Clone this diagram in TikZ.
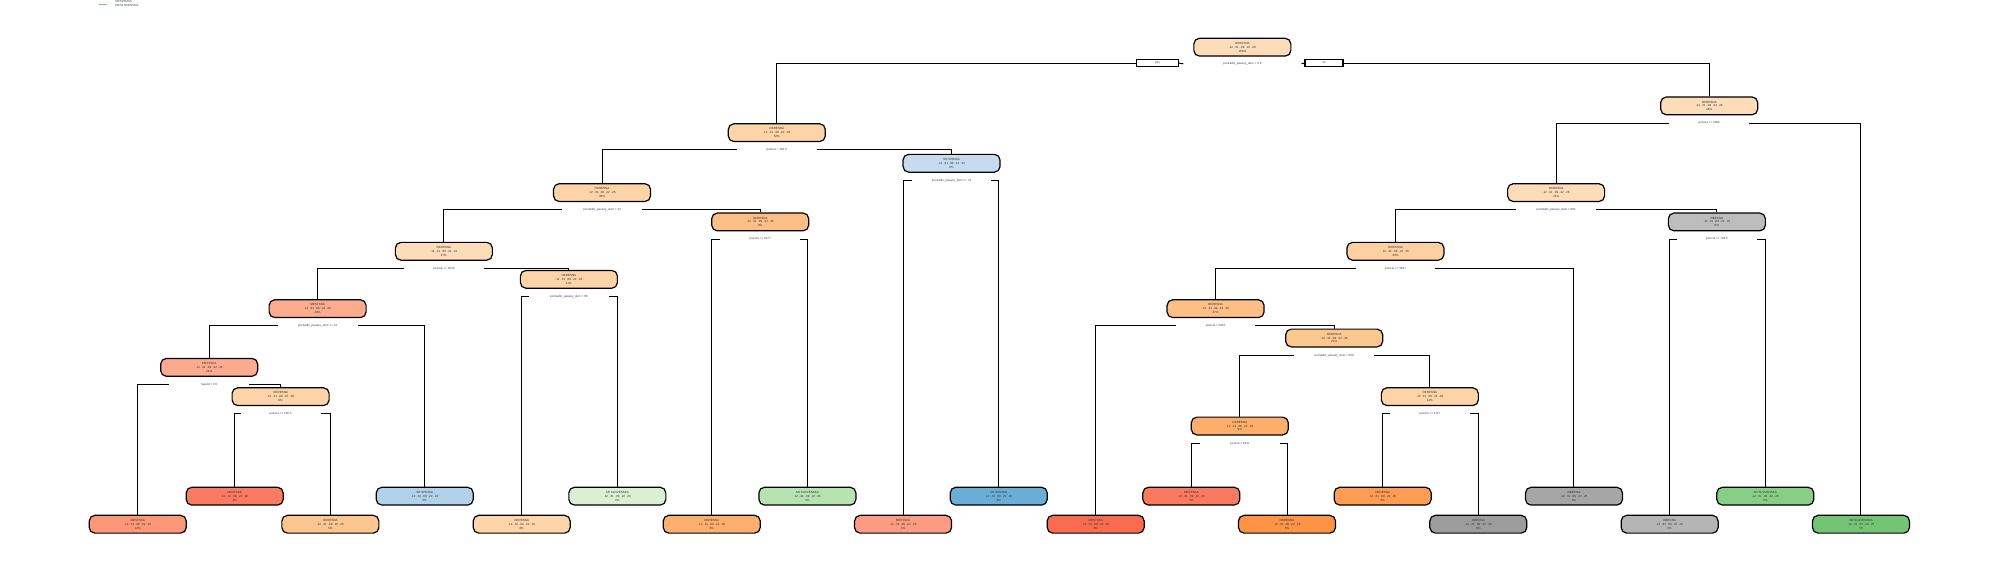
\documentclass[tikz,border=0pt]{standalone}
\usepackage{fontspec}
\setmainfont{Liberation Sans}
\usetikzlibrary{calc}
\definecolor{txt}{HTML}{303030}
\definecolor{lab}{HTML}{35405E}
\definecolor{cA}{HTML}{FDDCBA}
\definecolor{cB}{HTML}{FDD3A8}
\definecolor{cBlue}{HTML}{C6DBEF}
\definecolor{cC}{HTML}{FDBF86}
\definecolor{cD}{HTML}{FCAB8E}
\definecolor{cE}{HTML}{FDD0A2}
\definecolor{cF}{HTML}{FDC790}
\definecolor{cG}{HTML}{FDAE6B}
\definecolor{cGray}{HTML}{BDBDBD}
\definecolor{k1}{HTML}{FC9878}
\definecolor{k2}{HTML}{FB7B62}
\definecolor{k3}{HTML}{FDC590}
\definecolor{k4}{HTML}{B1D2E8}
\definecolor{k5}{HTML}{FDD5A8}
\definecolor{k6}{HTML}{D9F0D3}
\definecolor{k7}{HTML}{FDAF6F}
\definecolor{k8}{HTML}{B7E2B1}
\definecolor{k9}{HTML}{FC9B83}
\definecolor{k10}{HTML}{6AAED6}
\definecolor{k11}{HTML}{F96C50}
\definecolor{k12}{HTML}{FA7A60}
\definecolor{k13}{HTML}{FD9445}
\definecolor{k14}{HTML}{FD9C52}
\definecolor{k15}{HTML}{9C9C9C}
\definecolor{k16}{HTML}{A6A6A6}
\definecolor{k17}{HTML}{B5B5B5}
\definecolor{k18}{HTML}{88CE87}
\definecolor{k19}{HTML}{74C476}
\tikzset{
  tn/.style={draw=black, line width=0.6pt, rounded corners=2.8pt, minimum width=48.5pt, minimum height=8.9pt, inner sep=0pt, align=center, font=\fontsize{1.5pt}{1.9pt}\selectfont, text=txt},
  splitlab/.style={inner sep=0pt, minimum width=39.5pt, minimum height=2pt, font=\fontsize{1.5pt}{1.8pt}\selectfont, text=lab},
  yn/.style={draw=black, line width=0.55pt, inner sep=0pt, minimum height=3.2pt, font=\fontsize{1.5pt}{1.8pt}\selectfont, text=txt},
  edge/.style={draw=black, line width=0.5pt},
}
\newcommand\tnode[6]{\node[tn, fill=#4] (#1) at (#2,#3) {#5\\.12\enspace .31\enspace .09\enspace .22\enspace .26\\#6};}
\newcommand\tsplit[4]{%
  \node[splitlab] (#1s) at ($(#1)+(0,13.5)$) {#4};
  \draw[edge] (#2.north) |- (#1s.west);
  \draw[edge] (#3.north) |- (#1s.east);}
\begin{document}
\begin{tikzpicture}[x=0.6378pt, y=-0.6378pt]
\useasboundingbox (0,0) rectangle (1568,448);
% legend
\node[anchor=west, inner sep=0pt, font=\fontsize{1.5pt}{1.8pt}\selectfont, text=lab] (lg1) at (90,0.9) {SR/SPRAVA};
\node[anchor=west, inner sep=0pt, font=\fontsize{1.5pt}{1.8pt}\selectfont, text=lab] (lg2) at (90,4.2) {SR/SLOVENSKA};
\coordinate (lga) at (78,3.4);
\coordinate (lgb) at (84,3.4);
\draw[line width=0.6pt, draw=k19] (lga) -- (lgb);
% internal nodes
\tnode{n1}{974}{37}{cA}{OKRESNA}{100\%}
\tnode{n2}{609}{104}{cB}{OKRESNA}{52\%}
\tnode{n3}{746}{128}{cBlue}{SR SPRAVA}{6\%}
\tnode{n4}{472}{151}{cB}{OKRESNA}{46\%}
\tnode{n5}{596}{174}{cC}{OKRESNA}{9\%}
\tnode{n6}{348}{197}{cA}{OKRESNA}{37\%}
\tnode{n7}{446}{219}{cB}{OKRESNA}{11\%}
\tnode{n8}{249}{242}{cD}{MESTSKA}{26\%}
\tnode{n9}{164}{288}{cD}{MESTSKA}{21\%}
\tnode{n10}{220}{311}{cB}{OKRESNA}{9\%}
\tnode{r1}{1340}{83}{cA}{OKRESNA}{48\%}
\tnode{r2}{1220}{151}{cA}{OKRESNA}{41\%}
\tnode{r3}{1346}{174}{cGray}{OBECNA}{8\%}
\tnode{r4}{1094}{197}{cE}{OKRESNA}{33\%}
\tnode{r5}{953}{242}{cC}{OKRESNA}{27\%}
\tnode{r6}{1046}{265}{cF}{OKRESNA}{21\%}
\tnode{r7}{1121}{311}{cB}{OKRESNA}{12\%}
\tnode{r8}{972}{334}{cG}{OKRESNA}{9\%}
% leaves
\tnode{l1}{108}{411}{k1}{MESTSKA}{12\%}
\tnode{l2}{184}{389}{k2}{MESTSKA}{4\%}
\tnode{l3}{259}{411}{k3}{OKRESNA}{5\%}
\tnode{l4}{333}{389}{k4}{SR SPRAVA}{5\%}
\tnode{l5}{409}{411}{k5}{OKRESNA}{8\%}
\tnode{l6}{484}{389}{k6}{SR SLOVENSKA}{3\%}
\tnode{l7}{558}{411}{k7}{OKRESNA}{6\%}
\tnode{l8}{633}{389}{k8}{SR SLOVENSKA}{3\%}
\tnode{l9}{708}{411}{k9}{MESTSKA}{3\%}
\tnode{l10}{783}{389}{k10}{SR SPRAVA}{3\%}
\tnode{l11}{859}{411}{k11}{MESTSKA}{6\%}
\tnode{l12}{934}{389}{k12}{MESTSKA}{3\%}
\tnode{l13}{1009}{411}{k13}{OKRESNA}{6\%}
\tnode{l14}{1084}{389}{k14}{OKRESNA}{6\%}
\tnode{l15}{1159}{411}{k15}{OBECNA}{6\%}
\tnode{l16}{1234}{389}{k16}{OBECNA}{6\%}
\tnode{l17}{1309}{411}{k17}{OBECNA}{5\%}
\tnode{l18}{1384}{389}{k18}{SR SLOVENSKA}{3\%}
\tnode{l19}{1459}{411}{k19}{SR SLOVENSKA}{7\%}
% root split with yes/no
\node[splitlab, minimum width=58.7pt] (n1s) at (974,50) {pocitadlo\_pasazy\_dum < 0.0};
\node[yn, minimum width=21pt] (yes) at (907.5,49.5) {yes};
\node[yn, minimum width=19pt] (no) at (1038,49.5) {no};
\draw[edge] (n2.north) |- (yes.west);
\draw[edge] (yes.east) -- (n1s.west);
\draw[edge] (n1s.east) -- (no.west);
\draw[edge] (no.east) -| (r1.north);
% other splits
\tsplit{n2}{n4}{n3}{pozicia < 162.5}
\tsplit{n3}{l9}{l10}{pocitadlo\_pasazy\_dum >= 74}
\tsplit{n4}{n6}{n5}{pocitadlo\_pasazy\_dum < 13}
\tsplit{n5}{l7}{l8}{pozicia >= 2477}
\tsplit{n6}{n8}{n7}{pozicia >= 2020}
\tsplit{n7}{l5}{l6}{pocitadlo\_pasazy\_dum < 66}
\tsplit{n8}{n9}{l4}{pocitadlo\_pasazy\_dum >= 16}
\tsplit{n9}{l1}{n10}{najazd < 0.5}
\tsplit{n10}{l2}{l3}{pozicia >= 145.5}
\tsplit{r1}{r2}{l19}{pozicia >= 5005}
\tsplit{r2}{r4}{r3}{pocitadlo\_pasazy\_dum < 891}
\tsplit{r3}{l17}{l18}{pozicia >= 703.5}
\tsplit{r4}{r5}{l16}{pozicia >= 3827}
\tsplit{r5}{l11}{r6}{pozicia < 2931}
\tsplit{r6}{r8}{r7}{pocitadlo\_pasazy\_dum < 509}
\tsplit{r7}{l14}{l15}{pozicia >= 4117}
\tsplit{r8}{l12}{l13}{pozicia < 3311}
\end{tikzpicture}
\end{document}
